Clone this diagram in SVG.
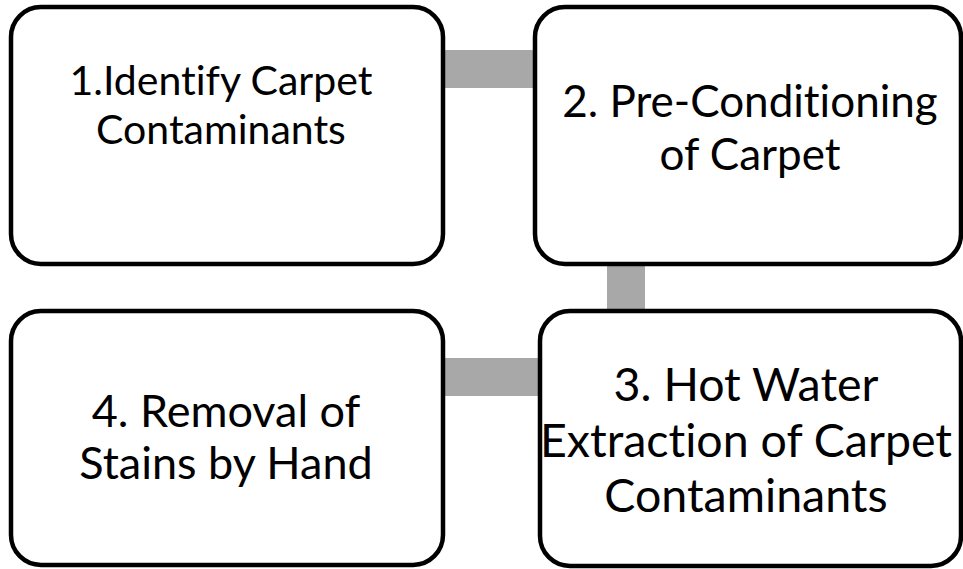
<svg xmlns="http://www.w3.org/2000/svg" width="963" height="569" viewBox="0 0 963 569">
<style>
.box{fill:#fff;stroke:#000;stroke-width:4.5}
.conn{fill:#a8a8a8}
.t{font-family:Lato,"Open Sans","Liberation Sans",sans-serif;fill:#000;text-anchor:middle;font-variant-ligatures:none}
</style>
<rect x="0" y="0" width="963" height="569" fill="#fff"/>
<g id="connectors">
<rect class="conn" x="443" y="50" width="92" height="38"/>
<rect class="conn" x="607" y="264" width="38" height="47"/>
<rect class="conn" x="443" y="358" width="97" height="38"/>
</g>
<g id="node1">
<rect class="box" x="11" y="7" width="432" height="257" rx="30"/>
<text class="t" font-size="41" x="221" y="95">1.Identify Carpet</text>
<text class="t" font-size="41" x="221" y="144">Contaminants</text>
</g>
<g id="node2">
<rect class="box" x="535" y="7" width="426" height="257" rx="30"/>
<text class="t" font-size="44" x="750" y="117">2. Pre-Conditioning</text>
<text class="t" font-size="44" x="750" y="170">of Carpet</text>
</g>
<g id="node3">
<rect class="box" x="540" y="311" width="421" height="255" rx="30"/>
<text class="t" font-size="46.5" x="746" y="401">3. Hot Water</text>
<text class="t" font-size="46.5" x="746" y="457">Extraction of Carpet</text>
<text class="t" font-size="46.5" x="746" y="512">Contaminants</text>
</g>
<g id="node4">
<rect class="box" x="11" y="311" width="432" height="254" rx="30"/>
<text class="t" font-size="45" x="226" y="427">4. Removal of</text>
<text class="t" font-size="45" x="226" y="479">Stains by Hand</text>
</g>
</svg>
